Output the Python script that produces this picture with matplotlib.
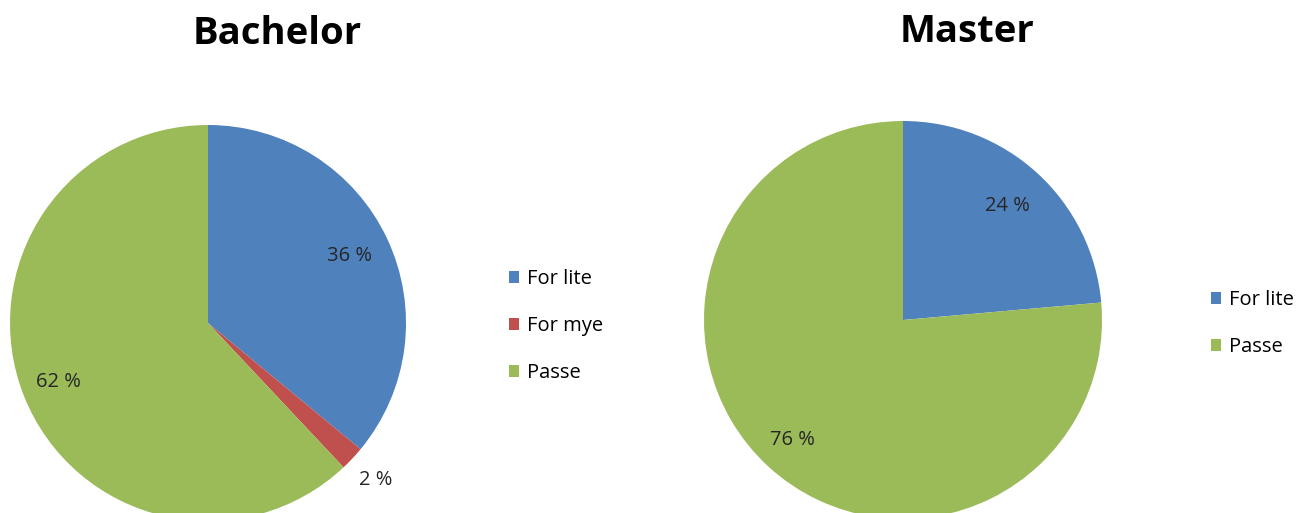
import numpy as np
import matplotlib.pyplot as plt
from matplotlib.patches import Patch

W, H = 1315, 513
categories_bachelor = ["For lite", "For mye", "Passe"]
values_bachelor = [36.0, 2.0, 62.0]
categories_master = ["For lite", "Passe"]
values_master = [23.6, 76.4]
titles = ["Bachelor", "Master"]
colors = {"For lite": "#4F81BD", "For mye": "#C0504D", "Passe": "#9BBB59"}

plt.rcParams['font.family'] = ['Open Sans', 'DejaVu Sans']

fig = plt.figure(figsize=(W / 100, H / 100), dpi=100)


def px_axes(cx, cy, r):
    return fig.add_axes([(cx - r) / W, (H - cy - r) / H, 2 * r / W, 2 * r / H])


def draw(ax, cats, vals, label_dist):
    ax.pie(vals, colors=[colors[c] for c in cats], startangle=90,
           counterclock=False, radius=1.0, wedgeprops=dict(linewidth=0))
    total = sum(vals)
    ang = 90.0
    for v, d in zip(vals, label_dist):
        mid = ang - 360 * v / total / 2
        ang -= 360 * v / total
        t = np.deg2rad(mid)
        ax.text(d * np.cos(t), d * np.sin(t), f"{round(v)} %", ha="center", va="center",
                fontsize=14.5, color="#262626", clip_on=False)
    ax.set_xlim(-1, 1)
    ax.set_ylim(-1, 1)
    ax.set_aspect("equal")
    ax.axis("off")


ax1 = px_axes(208, 323, 198)
draw(ax1, categories_bachelor, values_bachelor, [0.79, 1.16, 0.81])
ax2 = px_axes(903, 320, 199)
draw(ax2, categories_master, values_master, [0.78, 0.82])

fig.text(277 / W, 1 - 34 / H, titles[0], ha="center", va="center", fontsize=27.5,
         fontweight="bold", color="black")
fig.text(967 / W, 1 - 32 / H, titles[1], ha="center", va="center", fontsize=27.5,
         fontweight="bold", color="black")


def legend(cats, x, y_top):
    handles = [Patch(facecolor=colors[c], edgecolor="none") for c in cats]
    fig.legend(handles, cats, loc="upper left", bbox_to_anchor=(x / W, 1 - y_top / H),
               frameon=False, fontsize=14.5, handlelength=0.5, handleheight=0.5,
               handletextpad=0.4, labelspacing=1.35, borderaxespad=0, borderpad=0)


legend(categories_bachelor, 509, 269)
legend(categories_master, 1211, 290)

fig.savefig("out.png", dpi=100)
